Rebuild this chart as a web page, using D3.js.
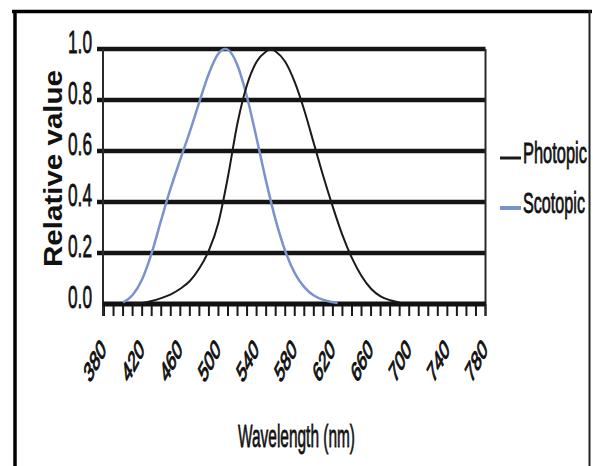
<!DOCTYPE html>
<html>
<head>
<meta charset="utf-8">
<script src="https://cdn.jsdelivr.net/npm/d3@7"></script>
<style>
	body { margin: 0; background: #fff; }
	text { font-family: "Liberation Sans", Arial, sans-serif; fill: #111; }
	.narrow { stroke: #111; stroke-width: 0.8px; }
	.slant { stroke: #111; stroke-width: 1.3px; }
</style>
</head>
<body>
<svg width="593" height="466"></svg>
<script>
const photopicNm = [410, 420, 430, 440, 450, 460, 470, 480, 490, 500, 510, 520, 530, 540, 550, 555, 560, 570, 580, 590, 600, 610, 620, 630, 640, 650, 660, 670, 680, 690];
const photopicVal = [0.001, 0.004, 0.012, 0.023, 0.038, 0.06, 0.09, 0.14, 0.21, 0.32, 0.5, 0.71, 0.86, 0.95, 0.99, 1.0, 0.99, 0.95, 0.87, 0.76, 0.63, 0.5, 0.38, 0.27, 0.18, 0.11, 0.06, 0.03, 0.015, 0.006];

const scotopicNm = [400, 410, 420, 430, 440, 450, 460, 470, 480, 490, 500, 507, 510, 520, 530, 540, 550, 560, 570, 580, 590, 600, 610, 620, 625];
const scotopicVal = [0.006, 0.035, 0.097, 0.2, 0.33, 0.455, 0.567, 0.676, 0.793, 0.904, 0.982, 1.0, 0.997, 0.935, 0.811, 0.65, 0.481, 0.329, 0.208, 0.121, 0.066, 0.033, 0.016, 0.007, 0.004];

const yTicks = [0, 0.2, 0.4, 0.6, 0.8, 1.0];
const xLabels = [380, 420, 460, 500, 540, 580, 620, 660, 700, 740, 780];
const xMinor = d3.range(380, 781, 10);

const seriesNames = ["Photopic", "Scotopic"];
const seriesColors = ["#1a1a1a", "#7b92cc"];

const svg = d3.select("svg");

const x = d3.scaleLinear()
	.domain([380, 780])
	.range([104, 485.5]);

const y = d3.scaleLinear()
	.domain([0, 1])
	.range([304, 49]);

// squeeze text horizontally to a given width (the original uses a condensed face)
function squeeze(sel, width, place) {
	sel.each(function(d, i) {
		const sx = width(d, i) / this.getComputedTextLength();
		d3.select(this).attr("transform", place(d, i) + " scale(" + sx + ",1)");
	});
}

// outer frame (no bottom edge in the original)
svg.append("line").attr("x1", 12).attr("x2", 592).attr("y1", 11.5).attr("y2", 11.5)
	.style("stroke", "#000").style("stroke-width", 3.5);
svg.append("line").attr("x1", 15).attr("x2", 15).attr("y1", 10).attr("y2", 466)
	.style("stroke", "#000").style("stroke-width", 3.5);
svg.append("line").attr("x1", 589.5).attr("x2", 589.5).attr("y1", 10).attr("y2", 466)
	.style("stroke", "#222").style("stroke-width", 2);

// gridlines
svg.append("g").selectAll("line")
	.data(yTicks.filter(function(d) { return d > 0; }))
	.enter().append("line")
	.attr("x1", 97)
	.attr("x2", x(780))
	.attr("y1", function(d) { return y(d); })
	.attr("y2", function(d) { return y(d); })
	.style("stroke", "#141414")
	.style("stroke-width", 4.5);

// minor ticks on x
svg.append("g").selectAll("line")
	.data(xMinor)
	.enter().append("line")
	.attr("x1", function(d) { return x(d); })
	.attr("x2", function(d) { return x(d); })
	.attr("y1", y(0))
	.attr("y2", y(0) + 12)
	.style("stroke", "#1a1a1a")
	.style("stroke-width", 2);

// frame of plot
svg.append("line").attr("x1", x(380) - 1).attr("x2", x(380) - 1).attr("y1", y(1)).attr("y2", y(0) + 12)
	.style("stroke", "#2a2a2a").style("stroke-width", 2);
svg.append("line").attr("x1", x(780)).attr("x2", x(780)).attr("y1", y(1)).attr("y2", y(0) + 12)
	.style("stroke", "#2a2a2a").style("stroke-width", 2);
svg.append("line").attr("x1", x(380) - 1).attr("x2", x(780)).attr("y1", y(0)).attr("y2", y(0))
	.style("stroke", "#111").style("stroke-width", 5);

// curves
const line = d3.line()
	.x(function(d) { return x(d[0]); })
	.y(function(d) { return y(d[1]); })
	.curve(d3.curveMonotoneX);

svg.append("path")
	.datum(d3.zip(scotopicNm, scotopicVal))
	.attr("d", line)
	.style("fill", "none")
	.style("stroke", seriesColors[1])
	.style("stroke-width", 2.5);

svg.append("path")
	.datum(d3.zip(photopicNm, photopicVal))
	.attr("d", line)
	.style("fill", "none")
	.style("stroke", seriesColors[0])
	.style("stroke-width", 2);

// y labels
svg.append("g").selectAll("text")
	.data(yTicks)
	.enter().append("text")
	.attr("class", "narrow")
	.attr("text-anchor", "end")
	.style("font-size", "32px")
	.text(function(d) { return d.toFixed(1); })
	.call(squeeze, function() { return 24; }, function(d) {
		return "translate(92," + (y(d) + 4) + ")";
	});

// x labels: 45 degree labels squashed sideways, like the original
svg.append("g").selectAll("text")
	.data(xLabels)
	.enter().append("text")
	.attr("class", "slant")
	.attr("text-anchor", "end")
	.attr("transform", function(d) {
		return "translate(" + (x(d) + 3) + ",351) scale(0.52,1) rotate(-45)";
	})
	.style("font-size", "28px")
	.text(function(d) { return d; });

// axis titles
svg.append("text")
	.attr("text-anchor", "middle")
	.style("font-size", "25px")
	.style("font-weight", "bold")
	.text("Relative value")
	.call(squeeze, function() { return 197; }, function() {
		return "translate(62,168.5) rotate(-90)";
	});

svg.append("text")
	.attr("class", "narrow")
	.attr("text-anchor", "middle")
	.style("font-size", "32px")
	.text("Wavelength (nm)")
	.call(squeeze, function() { return 117; }, function() {
		return "translate(296.5,447)";
	});

// legend
const legend = svg.append("g").attr("id", "legend");
const legendY = [158, 208];
const legendW = [64, 62];

legend.selectAll("line")
	.data(seriesNames)
	.enter().append("line")
	.attr("x1", 500)
	.attr("x2", 521)
	.attr("y1", function(d, i) { return legendY[i]; })
	.attr("y2", function(d, i) { return legendY[i]; })
	.style("stroke", function(d, i) { return seriesColors[i]; })
	.style("stroke-width", function(d, i) { return i === 0 ? 3 : 4; });

legend.selectAll("text")
	.data(seriesNames)
	.enter().append("text")
	.attr("class", "narrow")
	.style("font-size", "29px")
	.text(function(d) { return d; })
	.call(squeeze, function(d, i) { return legendW[i]; }, function(d, i) {
		return "translate(523," + (legendY[i] + 5) + ")";
	});
</script>
</body>
</html>
